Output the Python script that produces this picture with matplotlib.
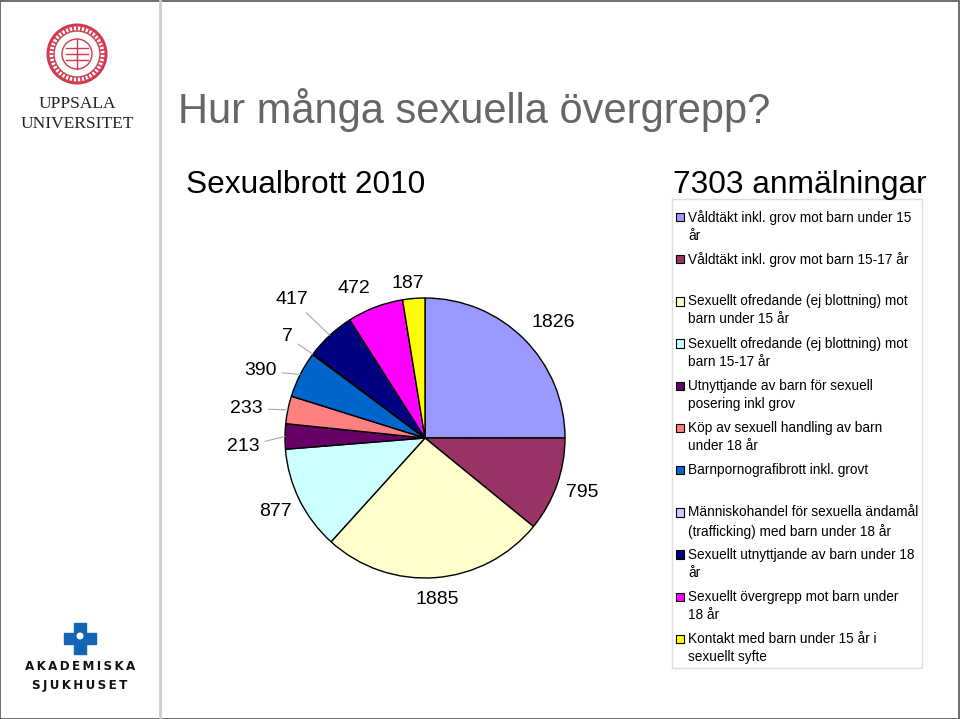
import numpy as np
import matplotlib
matplotlib.use("Agg")
import matplotlib.pyplot as plt
from matplotlib.patches import Rectangle, Circle

# ---------------- data ----------------
values = [1826, 795, 1885, 877, 213, 233, 390, 7, 417, 472, 187]
categories = [
    "Våldtäkt inkl. grov mot barn under 15\når",
    "Våldtäkt inkl. grov mot barn 15-17 år",
    "Sexuellt ofredande (ej blottning) mot\nbarn under 15 år",
    "Sexuellt ofredande (ej blottning) mot\nbarn 15-17 år",
    "Utnyttjande av barn för sexuell\nposering inkl grov",
    "Köp av sexuell handling av barn\nunder 18 år",
    "Barnpornografibrott inkl. grovt",
    "Människohandel för sexuella ändamål\n(trafficking) med barn under 18 år",
    "Sexuellt utnyttjande av barn under 18\når",
    "Sexuellt övergrepp mot barn under\n18 år",
    "Kontakt med barn under 15 år i\nsexuellt syfte",
]
colors = ["#9999FF", "#993366", "#FFFFCC", "#CCFFFF", "#660066", "#FF8080",
          "#0066CC", "#CCCCFF", "#000080", "#FF00FF", "#FFFF00"]
title = "Hur många sexuella övergrepp?"
subtitle_left = "Sexualbrott 2010"
subtitle_right = "7303 anmälningar"

# label placement style (distance factor, angle offset deg, leader line)
lab_dist = [1.23, 1.19, 1.16, 1.19, 1.30, 1.29, 1.27, 1.22, 1.37, 1.18, 1.11]
lab_dang = [-3, 0.7, 0, 0, 3.4, 2.3, 4.8, 0.5, 1.0, 4.5, 1.7]
leader = [False, False, False, False, True, True, True, True, True, False, False]

plt.rcParams['font.family'] = ['Liberation Sans', 'DejaVu Sans']

W, H = 960, 719
fig = plt.figure(figsize=(W / 100, H / 100), dpi=100)
fig.patch.set_facecolor("white")


def fx(px):
    return px / W


def fy(py):
    return 1 - py / H


# frame and divider
fig.add_artist(Rectangle((0.0005, 0.0005), 0.998, 0.998, transform=fig.transFigure,
                         fill=False, edgecolor="#555555", linewidth=1.2))
fig.add_artist(plt.Line2D([fx(160), fx(160)], [0, 1], transform=fig.transFigure,
                          color="#CCCCCC", linewidth=2))

# ---- Uppsala logo ----
lax = fig.add_axes([0, fy(150), fx(160), 150 / H])
lax.set_xlim(0, 160)
lax.set_ylim(150, 0)
lax.axis("off")
red = "#D23A50"
lax.add_patch(Circle((77, 54), 29, fill=False, edgecolor=red, linewidth=2.2))
lax.add_patch(Circle((77, 54), 23, fill=False, edgecolor=red, linewidth=1.0))
lax.add_patch(Circle((77, 54), 15, fill=False, edgecolor=red, linewidth=1.0))
for yy in (48, 54, 60):
    lax.plot([66, 88], [yy, yy], color=red, lw=1.0)
lax.plot([77, 77], [39, 69], color=red, lw=1.0)
for a in np.linspace(0, 2 * np.pi, 40, endpoint=False):
    lax.plot([77 + 24 * np.cos(a), 77 + 27.5 * np.cos(a)],
             [54 + 24 * np.sin(a), 54 + 27.5 * np.sin(a)], color=red, lw=1.2)
lax.text(77, 104, "UPPSALA", ha="center", va="center", fontsize=12.5,
         family="Liberation Serif", color="#222222")
lax.text(77, 124, "UNIVERSITET", ha="center", va="center", fontsize=12.5,
         family="Liberation Serif", color="#222222")

# ---- Akademiska logo ----
bax = fig.add_axes([0, 0, fx(160), 120 / H])
bax.set_xlim(0, 160)
bax.set_ylim(719, 599)
bax.axis("off")
blue = "#1565B5"
bax.add_patch(Rectangle((74, 623), 12, 31, color=blue))
bax.add_patch(Rectangle((64, 633), 32, 11, color=blue))
bax.add_patch(Circle((80, 636), 3.5, facecolor="white", edgecolor="none"))
bax.text(80, 667, "A\u2009K\u2009A\u2009D\u2009E\u2009M\u2009I\u2009S\u2009K\u2009A",
         ha="center", va="center", fontsize=8.6, family="DejaVu Sans",
         fontweight="bold", color="#111111")
bax.text(80, 686, "S\u2009J\u2009U\u2009K\u2009H\u2009U\u2009S\u2009E\u2009T",
         ha="center", va="center", fontsize=8.6, family="DejaVu Sans",
         fontweight="bold", color="#111111")

# ---- titles ----
fig.text(fx(178), fy(123), title, fontsize=30, color="#666666", va="baseline", ha="left")
fig.text(fx(186), fy(193), subtitle_left, fontsize=22.8, color="black", va="baseline", ha="left")
fig.text(fx(673), fy(193), subtitle_right, fontsize=22.8, color="black", va="baseline", ha="left")

# ---- pie ----
cx, cy, rpx = 425, 438, 140
span = 1.5 * rpx
ax = fig.add_axes([fx(cx - span), fy(cy + span), 2 * span / W, 2 * span / H])
wedges, _ = ax.pie(values, colors=colors, startangle=90, counterclock=False,
                   radius=1.0, center=(0, 0),
                   wedgeprops=dict(edgecolor="black", linewidth=1.0))
ax.set_xlim(-1.5, 1.5)
ax.set_ylim(-1.5, 1.5)
ax.axis("off")

for w, v, d, da, ld in zip(wedges, values, lab_dist, lab_dang, leader):
    mid = np.deg2rad((w.theta1 + w.theta2) / 2)
    ang = mid + np.deg2rad(da)
    tx, ty = d * np.cos(ang), d * np.sin(ang)
    if ld:
        ax.annotate(str(v), xy=(np.cos(mid), np.sin(mid)), xytext=(tx, ty),
                    ha="center", va="center", fontsize=14,
                    arrowprops=dict(arrowstyle="-", color="#AAAAAA", lw=0.8,
                                    shrinkA=2, shrinkB=0))
    else:
        ax.text(tx, ty, str(v), ha="center", va="center", fontsize=14)

# ---- legend (manual, built from categories/colors) ----
fig.add_artist(Rectangle((fx(672), fy(668)), fx(922) - fx(672), (668 - 199) / H,
                         transform=fig.transFigure, fill=False,
                         edgecolor="#DDDDDD", linewidth=1.0))
slot = 42.2
y0 = 217
sq = 8.5
for i, (lab, col) in enumerate(zip(categories, colors)):
    yl = y0 + i * slot
    fig.add_artist(Rectangle((fx(675.5), fy(yl + sq / 2)), sq / W, sq / H,
                             transform=fig.transFigure, facecolor=col,
                             edgecolor="black", linewidth=0.8))
    fig.text(fx(688), fy(yl - 7), lab, fontsize=9.8, va="top", ha="left",
             linespacing=1.36, color="black")

fig.savefig("out.png", dpi=100, facecolor="white")
